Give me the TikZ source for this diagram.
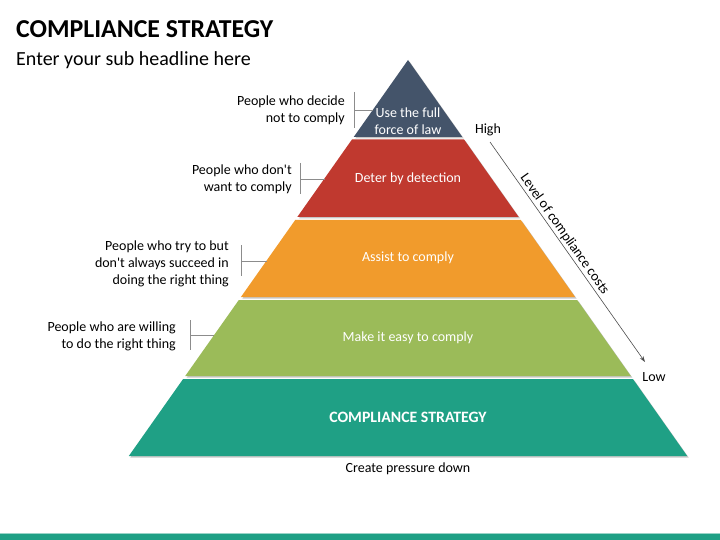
\documentclass[tikz,border=0pt]{standalone}
\usepackage{fontspec}
\setmainfont{Carlito}[Ligatures=TeXOff]
\usetikzlibrary{arrows.meta}
\definecolor{lawcol}{HTML}{44546A}
\definecolor{detectcol}{HTML}{C0392F}
\definecolor{assistcol}{HTML}{F19B2C}
\definecolor{easycol}{HTML}{9BBB59}
\definecolor{basecol}{HTML}{1FA085}
\tikzstyle{layertext}=[text=white,font=\fontsize{14}{17}\selectfont,align=center,inner sep=0pt]
\tikzstyle{sidetext}=[font=\fontsize{14}{17}\selectfont,align=right,anchor=east,inner sep=0pt]
\tikzstyle{plaintext}=[inner sep=0pt,font=\fontsize{14}{17}\selectfont]
\tikzstyle{bracket}=[draw=black!45,line width=0.6pt]
\tikzstyle{costarrow}=[draw=black!70,line width=0.6pt,-{Stealth[length=6pt,width=4pt]}]

\begin{document}
\begin{tikzpicture}[x=1pt,y=-1pt]
\useasboundingbox (0,0) rectangle (720,540);
\node[anchor=west,inner sep=0pt,font=\fontsize{25.8}{30}\selectfont\bfseries] (title) at (16,29) {COMPLIANCE STRATEGY};
\node[anchor=west,inner sep=0pt,font=\fontsize{20}{24}\selectfont] (subtitle) at (16,60) {Enter your sub headline here};
\foreach \top/\bot/\col in {60/137/lawcol,139.5/217/detectcol,220/297/assistcol,300/376/easycol,379/456/basecol}{
  \fill[black!22] ({409.5-0.705*(\top-60)},{\top+1.5}) -- ({409.5+0.705*(\top-60)},{\top+1.5})
    -- ({409.5+0.705*(\bot-60)},{\bot+1.5}) -- ({409.5-0.705*(\bot-60)},{\bot+1.5}) -- cycle;
  \fill[\col] ({408-0.705*(\top-60)},\top) -- ({408+0.705*(\top-60)},\top)
    -- ({408+0.705*(\bot-60)},\bot) -- ({408-0.705*(\bot-60)},\bot) -- cycle;
}
\node[layertext] (law) at (408,121) {Use the full\\force of law};
\node[layertext] (detect) at (408,179) {Deter by detection};
\node[layertext] (assist) at (408,258) {Assist to comply};
\node[layertext] (easy) at (408,338) {Make it easy to comply};
\node[layertext,font=\fontsize{15.8}{18}\selectfont\bfseries] (base) at (408,417) {COMPLIANCE STRATEGY};
\node[plaintext] (pressure) at (408,469) {Create pressure down};
\node[sidetext] (decide) at (345,110) {People who decide\\not to comply};
\node[sidetext] (dont) at (292,179) {People who don't\\want to comply};
\node[sidetext] (try) at (229,264) {People who try to but\\don't always succeed in\\doing the right thing};
\node[sidetext] (willing) at (176,336) {People who are willing\\to do the right thing};
\coordinate (decideedge) at (373,110);
\coordinate (dontedge) at (325,179);
\coordinate (tryedge) at (267,261);
\coordinate (willingedge) at (214,335);
\draw[bracket] (354,92) -- (354,128) (354,110) -- (decideedge);
\draw[bracket] (300,163) -- (300,194) (300,179) -- (dontedge);
\draw[bracket] (241,245) -- (241,276) (241,261) -- (tryedge);
\draw[bracket] (190,320) -- (190,350) (190,335) -- (willingedge);
\node[plaintext] (high) at (488,130) {High};
\node[plaintext] (low) at (654,377) {Low};
\coordinate (costtop) at (490,142);
\coordinate (costbot) at (645,362);
\draw[costarrow] (costtop) -- node[sloped,above,pos=0.44,inner sep=1.5pt,font=\fontsize{14}{17}\selectfont]{Level of compliance costs} (costbot);
\fill[basecol] (0,533.5) rectangle (720,540);
\draw[basecol!45,line width=0.8pt] (0,533.5) -- (720,533.5);
\end{tikzpicture}
\end{document}
